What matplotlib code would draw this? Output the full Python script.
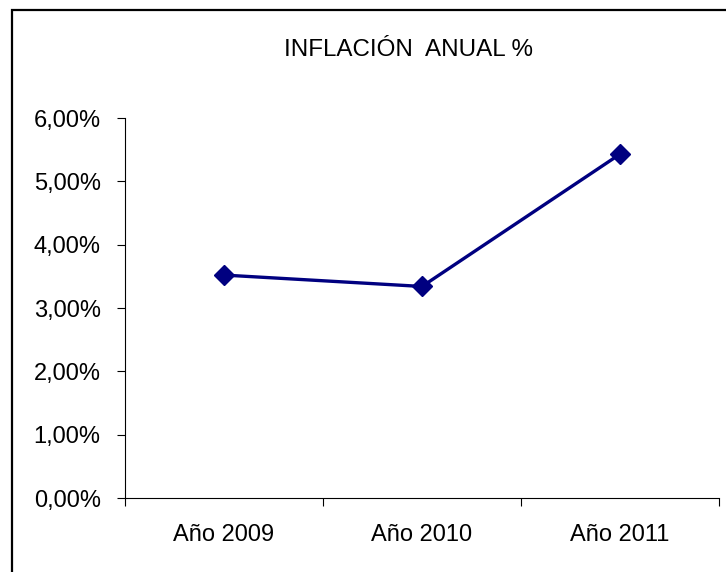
import matplotlib.pyplot as plt
from matplotlib.patches import Rectangle
from matplotlib.ticker import FuncFormatter

plt.rcParams['font.family'] = ['Liberation Sans', 'DejaVu Sans']

years = ["Año 2009", "Año 2010", "Año 2011"]
inflation = [3.52, 3.34, 5.43]
yticks = [0, 1, 2, 3, 4, 5, 6]

W, H = 726, 572
fig = plt.figure(figsize=(W / 100, H / 100), dpi=100)

# chart border (only top/left visible in the reference)
fig.patches.append(Rectangle((12 / W, -0.05), 1.1, 1 - 10 / H + 0.05,
                             transform=fig.transFigure, fill=False,
                             edgecolor="black", linewidth=1.6))

ax = fig.add_axes([125 / W, 1 - 498 / H, (719 - 125) / W, (498 - 118) / H])
x = list(range(len(years)))
ax.plot(x, inflation, color="#000080", linewidth=2.4, marker="D",
        markersize=10, clip_on=False)

ax.set_xlim(-0.5, len(years) - 0.5)
ax.set_ylim(0, 6)
ax.set_yticks(yticks)
ax.yaxis.set_major_formatter(FuncFormatter(lambda v, p: f"{v:.2f}%".replace(".", ",")))
ax.set_xticks([i - 0.5 for i in range(len(years) + 1)])
ax.set_xticklabels([])
ax.set_xticks(x, minor=True)
ax.set_xticklabels(years, minor=True)
ax.tick_params(axis="x", which="major", direction="out", length=5.5, width=0.8)
ax.tick_params(axis="x", which="minor", length=0, pad=19, labelsize=17)
ax.tick_params(axis="y", direction="out", length=5.5, width=0.8, pad=12, labelsize=17)

for s in ["top", "right"]:
    ax.spines[s].set_visible(False)
for s in ["left", "bottom"]:
    ax.spines[s].set_linewidth(0.8)

fig.text(409 / W, 1 - 56 / H, "INFLACIÓN  ANUAL %", ha="center", va="baseline",
         fontsize=17.4)

fig.savefig("out.png", dpi=100)
